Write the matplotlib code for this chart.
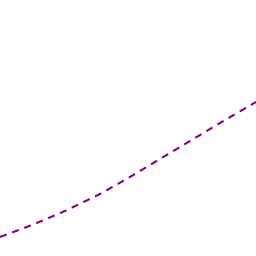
import matplotlib
matplotlib.use("Agg")
import matplotlib.pyplot as plt

# curve points (pixel-like units, y grows downward)
xs = [0, 32, 65, 100, 130, 160, 190, 220, 256]
ys = [237, 225, 211, 194, 177, 159, 141, 123, 102]

fig = plt.figure(figsize=(2.56, 2.56), dpi=100)
ax = fig.add_axes([0, 0, 1, 1])
ax.plot(xs, ys, color="#800080", linewidth=1.5, linestyle=(0, (3.4, 2.8)))
ax.set_xlim(0, 256)
ax.set_ylim(256, 0)
ax.axis("off")

fig.savefig("out.png", dpi=100)
